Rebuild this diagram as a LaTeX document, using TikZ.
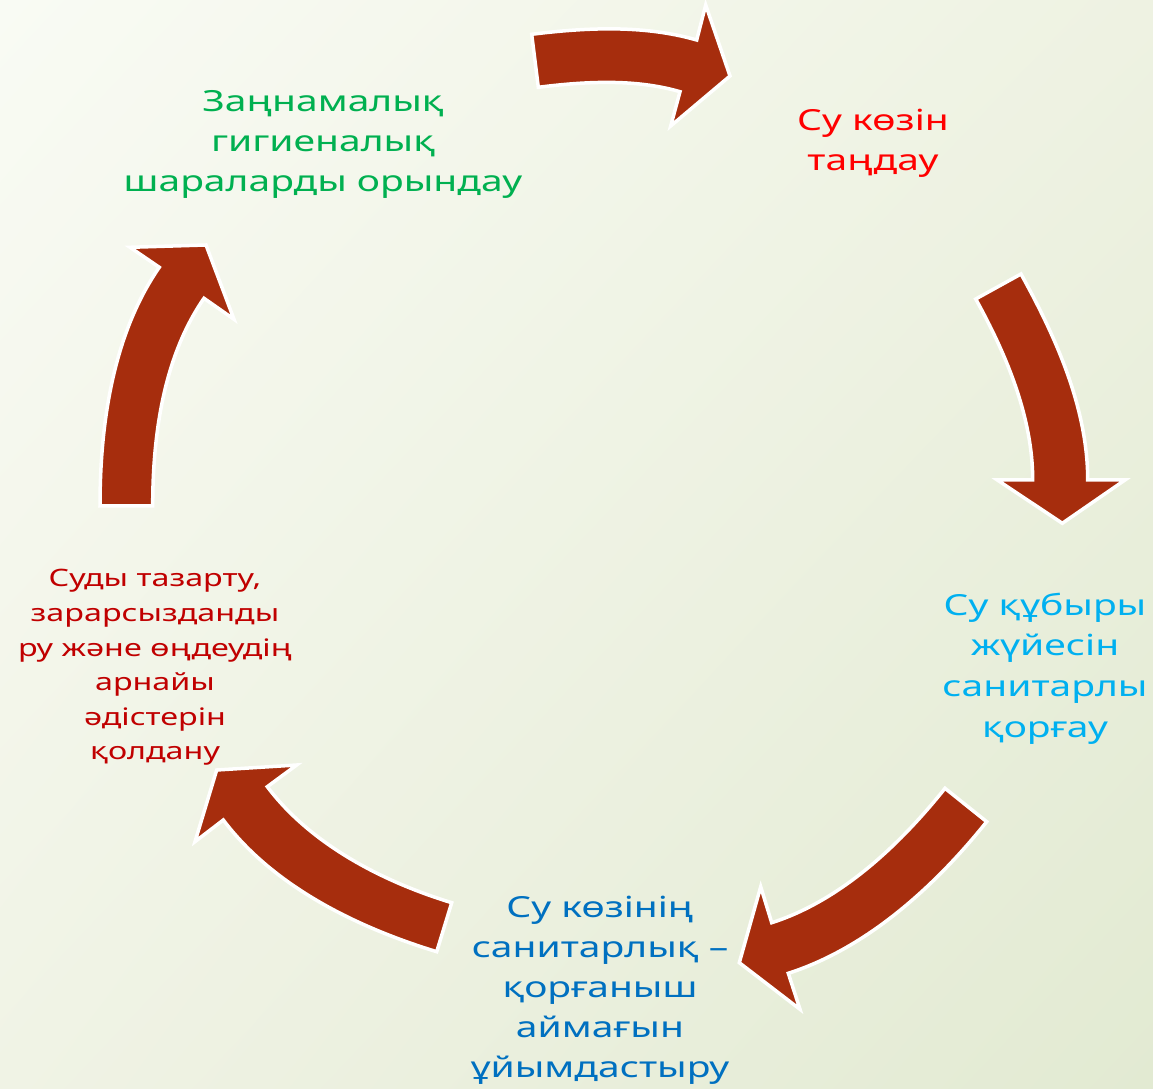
\documentclass[tikz,border=0pt]{standalone}
\usepackage{fontspec}
\usetikzlibrary{shadings}
\newfontfamily\cg{Noto Sans}[FakeStretch=1.345]
\definecolor{arrowred}{RGB}{166,45,13}
\definecolor{kzgreen}{RGB}{0,176,80}
\definecolor{kzred}{RGB}{255,0,0}
\definecolor{kzcyan}{RGB}{0,176,240}
\definecolor{kzblue}{RGB}{0,112,192}
\definecolor{kzdark}{RGB}{192,0,0}
\definecolor{bgtl}{RGB}{249,251,244}
\definecolor{bgtr}{RGB}{238,242,226}
\definecolor{bgbl}{RGB}{240,243,229}
\definecolor{bgbr}{RGB}{226,234,210}
\begin{document}
\begin{tikzpicture}[x=1pt,y=1pt,
  arrowshape/.style={fill=arrowred, draw=white, line width=3.5pt, line join=miter},
  arcbend/.style={looseness=0.85},
  lbl/.style={align=center, inner sep=0pt, font=\cg\fontsize{29}{40}\selectfont},
  lblwide/.style={align=center, inner sep=0pt, font=\cg\fontsize{29}{40.7}\selectfont},
  lblsmall/.style={align=center, inner sep=0pt, font=\cg\fontsize{24}{34.6}\selectfont}]
\useasboundingbox (0,0) rectangle (1153,1088);
\shade[upper left=bgtl, upper right=bgtr, lower left=bgbl, lower right=bgbr] (0,0) rectangle (1153,1088);

% ---- top arrow
\coordinate (aTo) at (531.7,1053.7);
\coordinate (aTi) at (538.3,1000.7);
\coordinate (aBo) at (696.7,1048);
\coordinate (aBi) at (680,996.3);
\coordinate (aHo) at (705.7,1083);
\coordinate (aHi) at (670.7,962);
\coordinate (aT) at (730,1012);
\path[arrowshape] (aTo) to[arcbend, out=7.1, in=163.9] (aBo) -- (aHo) -- (aT) -- (aHi) -- (aBi)
  to[arcbend, out=163.9, in=7.1] (aTi) -- cycle;

% ---- right arrow
\coordinate (bTo) at (1021,814);
\coordinate (bTi) at (975.7,789);
\coordinate (bBo) at (1087.7,608);
\coordinate (bBi) at (1032.7,608);
\coordinate (bHo) at (1125,608);
\coordinate (bHi) at (997.3,608);
\coordinate (bT) at (1062.3,564.7);
\path[arrowshape] (bTo) to[arcbend, out=-61.1, in=90] (bBo) -- (bHo) -- (bT) -- (bHi) -- (bBi)
  to[arcbend, out=90, in=-61.1] (bTi) -- cycle;

% ---- bottom-right arrow
\coordinate (cTo) at (986.7,266.3);
\coordinate (cTi) at (945,299.7);
\coordinate (cBo) at (788.3,114.7);
\coordinate (cBi) at (771.7,165.3);
\coordinate (cHo) at (800,78.7);
\coordinate (cHi) at (760.7,201.3);
\coordinate (cT) at (739.3,125.3);
\path[arrowshape] (cTo) to[arcbend, out=-128.7, in=17.8] (cBo) -- (cHo) -- (cT) -- (cHi) -- (cBi)
  to[arcbend, out=17.8, in=-128.7] (cTi) -- cycle;

% ---- bottom-left arrow
\coordinate (dTo) at (436.7,136.3);
\coordinate (dTi) at (451.7,185.3);
\coordinate (dBo) at (223.3,268);
\coordinate (dBi) at (267.3,301.3);
\coordinate (dHo) at (195,246.3);
\coordinate (dHi) at (296.7,323);
\coordinate (dT) at (216.7,318);
\path[arrowshape] (dTo) to[arcbend, out=163, in=-53] (dBo) -- (dHo) -- (dT) -- (dHi) -- (dBi)
  to[arcbend, out=-53, in=163] (dTi) -- cycle;

% ---- left arrow
\coordinate (eTo) at (100,582);
\coordinate (eTi) at (152.7,582);
\coordinate (eBo) at (159.3,820.7);
\coordinate (eBi) at (204,789.7);
\coordinate (eHo) at (130,840.7);
\coordinate (eHi) at (234,768.7);
\coordinate (eT) at (206,843);
\path[arrowshape] (eTo) to[arcbend, out=90, in=235.3] (eBo) -- (eHo) -- (eT) -- (eHi) -- (eBi)
  to[arcbend, out=235.3, in=90] (eTi) -- cycle;

% ---- labels
\node[lbl, text=kzgreen] (t1) at (323,944) {Заңнамалық\\гигиеналық\\шараларды орындау};
\node[lbl, text=kzred] (t2) at (873,945) {Су көзін\\таңдау};
\node[lblwide, text=kzcyan] (t3) at (1045,419.5) {Су құбыры\\жүйесін\\санитарлы\\қорғау};
\node[lbl, text=kzblue] (t4) at (600,97.5) {Су көзінің\\санитарлық –\\қорғаныш\\аймағын\\ұйымдастыру};
\node[lblsmall, text=kzdark] (t5) at (155,420.5) {Суды тазарту,\\зарарсызданды\\ру және өңдеудің\\арнайы\\әдістерін\\қолдану};
\end{tikzpicture}
\end{document}
